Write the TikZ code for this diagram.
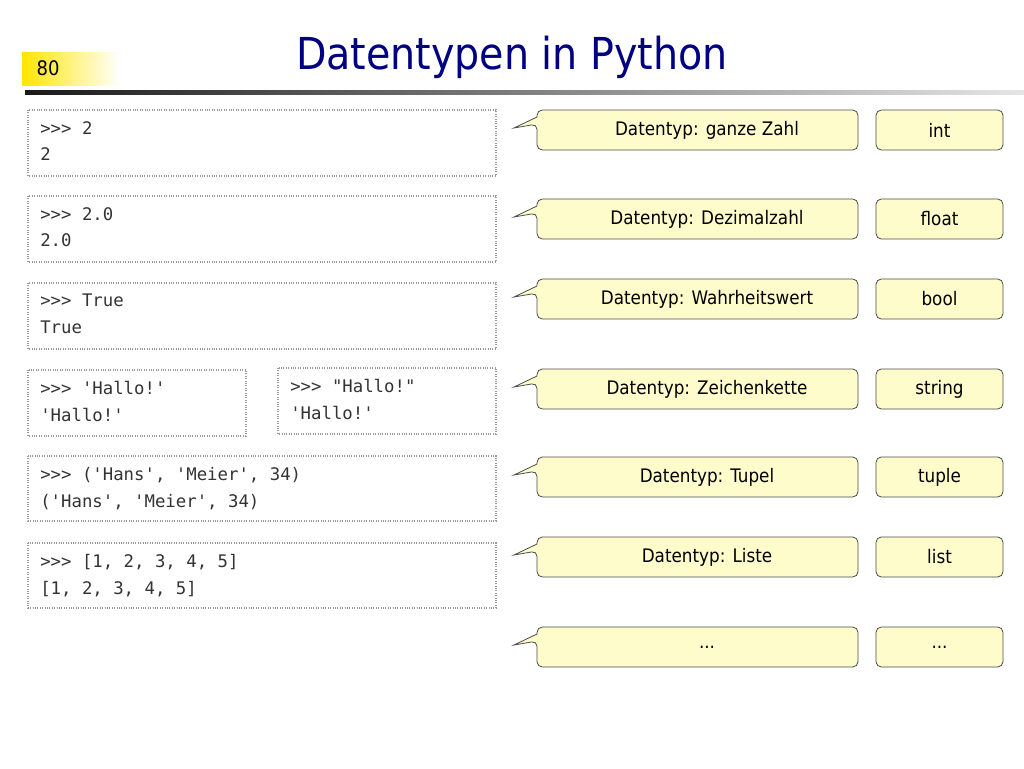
\documentclass[tikz,border=0pt]{standalone}
\usepackage{fontspec}
\setmainfont{DejaVu Sans}
\setmonofont{DejaVu Sans Mono}
\newfontfamily\cond{DejaVu Sans Condensed}
\begin{document}
\begin{tikzpicture}[x=0.75pt,y=-0.75pt,
  codebox/.style={draw=gray!80,densely dotted,line width=0.8pt},
  codetxt/.style={anchor=north west,align=left,font=\ttfamily\fontsize{13}{20}\selectfont,text=black!80,inner sep=0pt},
  callout/.style={draw=black!70,fill=yellow!20!white,line width=0.6pt,rounded corners=4pt},
  typebox/.style={draw=black!70,fill=yellow!20!white,line width=0.6pt,rounded corners=4pt,minimum width=95.25pt,minimum height=30pt,font=\cond\fontsize{14}{16}\selectfont},
  lbl/.style={font=\cond\fontsize{14}{16}\selectfont}]
\useasboundingbox (0,0) rectangle (1024,768);
% header
\shade[left color=yellow!80!orange,right color=white] (22,52) rectangle (120,85);
\node[font=\cond\fontsize{15}{18}\selectfont,anchor=west] (num) at (32,68) {80};
\shade[left color=black!90,right color=black!10] (25,90) rectangle (1024,94);
\node[font=\cond\fontsize{33}{36}\selectfont,text=blue!50!black] (title) at (512,57) {Datentypen in Python};
% code boxes
\draw[codebox] (28,110) rectangle (496,176);
\node[codetxt] (c1) at (40,121) {>{}>{}> 2\\2};
\draw[codebox] (28,196) rectangle (496,262);
\node[codetxt] (c2) at (40,207) {>{}>{}> 2.0\\2.0};
\draw[codebox] (28,283) rectangle (496,349);
\node[codetxt] (c3) at (40,294) {>{}>{}> True\\True};
\draw[codebox] (28,370) rectangle (246,436);
\node[codetxt] (c4) at (40,381) {>{}>{}> 'Hallo!'\\'Hallo!'};
\draw[codebox] (278,368) rectangle (496,434);
\node[codetxt] (c5) at (290,379) {>{}>{}> "Hallo!"\\'Hallo!'};
\draw[codebox] (28,456) rectangle (496,521);
\node[codetxt] (c6) at (40,467) {>{}>{}> ('Hans', 'Meier', 34)\\('Hans', 'Meier', 34)};
\draw[codebox] (28,543) rectangle (496,608);
\node[codetxt] (c7) at (40,554) {>{}>{}> [1, 2, 3, 4, 5]\\{}[1, 2, 3, 4, 5]};
% callouts and types
\foreach \yy/\txt/\typ [count=\ii] in {130/{Datentyp: ganze Zahl}/int,
  219/{Datentyp: Dezimalzahl}/float,
  299/{Datentyp: Wahrheitswert}/bool,
  389/{Datentyp: Zeichenkette}/string,
  477/{Datentyp: Tupel}/tuple,
  557/{Datentyp: Liste}/list,
  647/{...}/{...}}{
  \draw[callout] (537,\yy-20) -- (858,\yy-20) -- (858,\yy+20) -- (537,\yy+20) -- (537,\yy-6) [sharp corners]-- (514,\yy-2) -- (537,\yy-13) [rounded corners=4pt]-- cycle;
  \node[lbl] (d\ii) at (707,\yy) {\txt};
  \node[typebox] (t\ii) at (939.5,\yy) {\typ};
}
\end{tikzpicture}
\end{document}
